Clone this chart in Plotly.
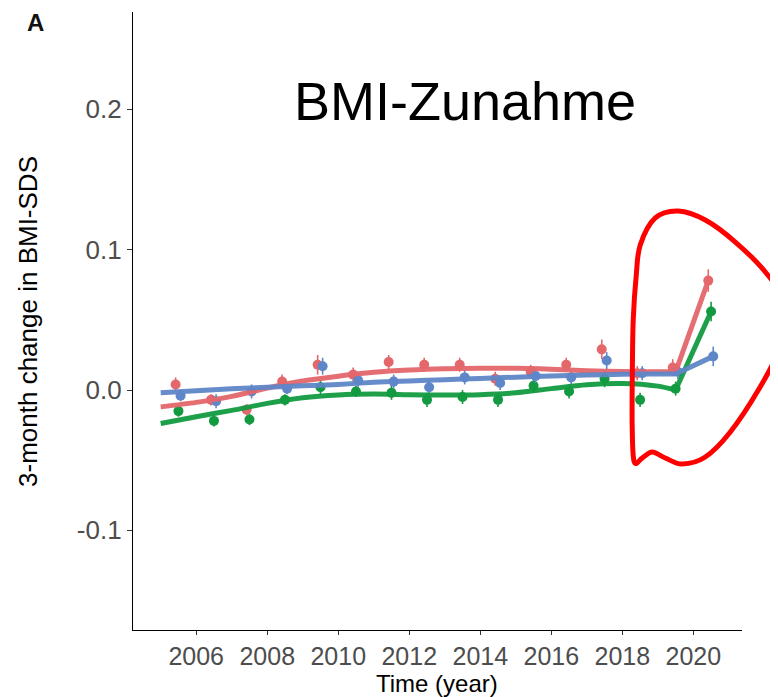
import plotly.graph_objects as go

# ---------------- data ----------------
years = list(range(2005, 2021))

red_vals   = [0.004, -0.007, -0.014, 0.006, 0.018, 0.011, 0.020, 0.018,
              0.018, 0.008, 0.013, 0.018, 0.029, 0.012, 0.016, 0.078]
green_vals = [-0.015, -0.022, -0.021, -0.007, 0.002, -0.001, -0.002, -0.007,
              -0.005, -0.007, 0.003, -0.001, 0.008, -0.007, 0.001, 0.056]
blue_vals  = [-0.004, -0.008, -0.001, 0.001, 0.017, 0.007, 0.006, 0.002,
              0.009, 0.005, 0.010, 0.009, 0.021, 0.012, 0.013, 0.024]

red_err   = [0.005, 0.004, 0.004, 0.005, 0.007, 0.005, 0.005, 0.005,
             0.005, 0.005, 0.005, 0.005, 0.007, 0.005, 0.006, 0.008]
green_err = [0.004, 0.004, 0.004, 0.004, 0.005, 0.004, 0.005, 0.005,
             0.005, 0.005, 0.005, 0.005, 0.006, 0.005, 0.005, 0.007]
blue_err  = [0.004, 0.005, 0.005, 0.004, 0.006, 0.005, 0.005, 0.005,
             0.005, 0.005, 0.005, 0.005, 0.006, 0.005, 0.005, 0.007]

# smoothed trend, up to the 2019.5 kink
fit_x     = [2005.0, 2006.0, 2007.0, 2008.0, 2009.0, 2010.0, 2011.0, 2012.0,
             2013.0, 2014.0, 2015.0, 2016.0, 2017.0, 2018.0, 2019.0, 2019.5]
red_fit   = [-0.012, -0.0088, -0.0045, 0.0015, 0.0065, 0.0099, 0.0126, 0.0142,
             0.0151, 0.0155, 0.0155, 0.0148, 0.0138, 0.0132, 0.0130, 0.0130]
green_fit = [-0.0238, -0.019, -0.0145, -0.0095, -0.0055, -0.0035, -0.0029, -0.0033,
             -0.0036, -0.0033, -0.0020, 0.0010, 0.0038, 0.0047, 0.0028, 0.0000]
blue_fit  = [-0.0020, -0.0005, 0.0010, 0.0020, 0.0030, 0.0040, 0.0055, 0.0065,
             0.0073, 0.0083, 0.0092, 0.0100, 0.0107, 0.0112, 0.0115, 0.0115]

y_tickvals = [-0.1, 0.0, 0.1, 0.2]
y_ticktext = ["-0.1", "0.0", "0.1", "0.2"]
x_tickvals = [2006, 2008, 2010, 2012, 2014, 2016, 2018, 2020]

# ---------------- styling ----------------
RED, GREEN, BLUE = "#E4676B", "#129A40", "#5F86C8"
FONT = "Liberation Sans, Arial, Helvetica, sans-serif"
OFF = 8                     # page body margin of the html page
W, H = 778 - OFF, 697 - OFF
# plot area in window pixels: left 133, right 741.7, top 12, bottom 630
ML, MR, MT, MB = 133 - OFF, 778 - 741.7, 12 - OFF, 697 - 630

series = [
    ("red", RED, red_vals, red_err, red_fit, -0.08),
    ("green", GREEN, green_vals, green_err, green_fit, 0.0),
    ("blue", BLUE, blue_vals, blue_err, blue_fit, 0.06),
]

fig = go.Figure()

# points with error bars
for name, col, vals, err, fit, off in series:
    xs = [y + 0.5 + off for y in years]
    fig.add_trace(go.Scatter(
        x=xs, y=vals, mode="markers",
        marker=dict(color=col, size=10),
        error_y=dict(type="data", array=err, visible=True,
                     color=col, thickness=1.6, width=0),
        showlegend=False, hoverinfo="skip"))

# smooth lines + final straight segment to the last point
for name, col, vals, err, fit, off in series:
    last_x = years[-1] + 0.5 + off
    fig.add_trace(go.Scatter(
        x=fit_x, y=fit, mode="lines",
        line=dict(color=col, width=5, shape="spline", smoothing=0.8),
        opacity=0.95, showlegend=False, hoverinfo="skip"))
    fig.add_trace(go.Scatter(
        x=[fit_x[-1], last_x], y=[fit[-1], vals[-1]], mode="lines",
        line=dict(color=col, width=5),
        opacity=0.95, showlegend=False, hoverinfo="skip"))

# ---------------- helpers: window pixel -> paper ----------------
pw, ph = W - ML - MR, H - MT - MB


def px_to_paper(x, y):
    return (x - OFF - ML) / pw, (H - MB - (y - OFF)) / ph


# ---------------- hand-drawn red outline ----------------
outline_px = [(640, 245), (655, 218), (678, 211), (705, 220), (735, 242),
              (765, 272), (786, 305), (781, 345), (758, 390), (730, 432),
              (705, 457), (682, 464), (665, 458), (652, 452), (642, 458),
              (634, 462), (632, 430), (632, 380), (633, 320), (636, 275)]
pts = [px_to_paper(x, y) for x, y in outline_px]
n = len(pts)
path = f"M {pts[0][0]:.4f},{pts[0][1]:.4f}"
for i in range(n):
    p0, p1, p2, p3 = pts[i - 1], pts[i], pts[(i + 1) % n], pts[(i + 2) % n]
    c1 = (p1[0] + (p2[0] - p0[0]) / 6, p1[1] + (p2[1] - p0[1]) / 6)
    c2 = (p2[0] - (p3[0] - p1[0]) / 6, p2[1] - (p3[1] - p1[1]) / 6)
    path += (f" C {c1[0]:.4f},{c1[1]:.4f} {c2[0]:.4f},{c2[1]:.4f} "
             f"{p2[0]:.4f},{p2[1]:.4f}")
path += " Z"
fig.add_shape(type="path", path=path, xref="paper", yref="paper",
              line=dict(color="#FF0000", width=5), layer="above")

# ---------------- annotations ----------------
ax_, ay_ = px_to_paper(36, 23)
fig.add_annotation(text="<b>A</b>", xref="paper", yref="paper", x=ax_, y=ay_,
                   xanchor="center", yanchor="middle", showarrow=False,
                   font=dict(family=FONT, size=24, color="#111111"))
bx, by = px_to_paper(465, 101)
fig.add_annotation(text="BMI-Zunahme", xref="paper", yref="paper", x=bx, y=by,
                   xanchor="center", yanchor="middle", showarrow=False,
                   font=dict(family=FONT, size=54, color="#000000"))
tx, ty = px_to_paper(437, 683)
fig.add_annotation(text="Time (year)", xref="paper", yref="paper", x=tx, y=ty,
                   xanchor="center", yanchor="middle", showarrow=False,
                   font=dict(family=FONT, size=24, color="#000000"))
yx, yy = px_to_paper(28, 321)
fig.add_annotation(text="3-month change in BMI-SDS", xref="paper", yref="paper",
                   x=yx, y=yy, textangle=-90,
                   xanchor="center", yanchor="middle", showarrow=False,
                   font=dict(family=FONT, size=26, color="#000000"))

# ---------------- layout ----------------
fig.update_layout(
    width=W, height=H,
    margin=dict(l=ML, r=MR, t=MT, b=MB, pad=0),
    plot_bgcolor="white", paper_bgcolor="white",
    font=dict(family=FONT),
    xaxis=dict(
        range=[2004.22, 2021.37], tickvals=x_tickvals, automargin=False,
        showgrid=False, zeroline=False,
        showline=True, linecolor="#000000", linewidth=1.3,
        ticks="outside", ticklen=4, tickcolor="#333333", tickwidth=1.1,
        tickfont=dict(family=FONT, size=25, color="#4D4D4D"),
    ),
    yaxis=dict(
        range=[-0.171, 0.2694], tickvals=y_tickvals, ticktext=y_ticktext,
        automargin=False,
        showgrid=False, zeroline=False,
        showline=True, linecolor="#000000", linewidth=1.3,
        ticks="outside", ticklen=5, tickcolor="#333333", tickwidth=1.1,
        tickfont=dict(family=FONT, size=26, color="#4D4D4D"),
    ),
)

fig.write_html("out.html")
